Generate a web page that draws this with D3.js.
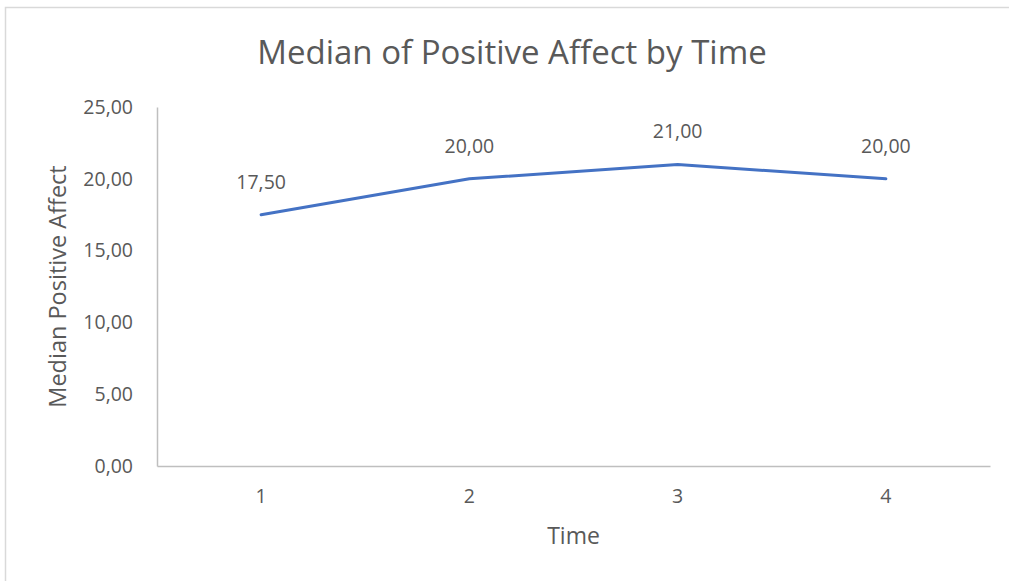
<!DOCTYPE html>
<html>
<head>
<meta charset="utf-8">
<script src="https://cdn.jsdelivr.net/npm/d3@7"></script>
<style>
  body { margin: 0; background: #fff; overflow: hidden; }
  text { font-family: "Open Sans", sans-serif; fill: #595959; }
</style>
</head>
<body>
<svg id="chart"></svg>
<script>
// chart data
const times = ["1", "2", "3", "4"];
const medians = [17.5, 20, 21, 20];
const yTicks = [0, 5, 10, 15, 20, 25];

const width = 1009, height = 581;
const margin = { top: 107, right: 19, bottom: 115, left: 157 };
const innerW = width - margin.left - margin.right;
const innerH = height - margin.top - margin.bottom;

const svg = d3.select('#chart')
    .attr('width', width)
    .attr('height', height);

// outer chart border (only top and left edges fall inside the picture)
svg.append('rect')
    .attr('x', 5.5).attr('y', 7.5)
    .attr('width', width + 20).attr('height', height + 20)
    .attr('fill', 'none')
    .attr('stroke', '#d9d9d9')
    .attr('stroke-width', 1.5);

const chart = svg.append('g')
    .attr('transform', `translate(${margin.left}, ${margin.top})`);

const locale = d3.formatLocale({ decimal: ",", thousands: ".", grouping: [3], currency: ["", ""] });
const fmt = locale.format(".2f");

const xScale = d3.scaleBand()
    .domain(times)
    .range([0, innerW]);

const yScale = d3.scaleLinear()
    .domain([0, 25])
    .range([innerH, 0]);

// axes
const xAxis = d3.axisBottom(xScale).tickSize(0).tickPadding(23);
const yAxis = d3.axisLeft(yScale).tickValues(yTicks).tickFormat(fmt).tickSize(0).tickPadding(24);

const xg = chart.append('g')
    .attr('transform', `translate(0, ${innerH})`)
    .call(xAxis);
const yg = chart.append('g').call(yAxis);

[xg, yg].forEach(g => {
    g.select('.domain').attr('stroke', '#bfbfbf').attr('stroke-width', 1.5);
    g.selectAll('text').style('font-size', '19.5px').attr('fill', '#595959');
});

// line
const line = d3.line()
    .x((d, i) => xScale(times[i]) + xScale.bandwidth() / 2)
    .y(d => yScale(d));

chart.append('path')
    .datum(medians)
    .attr('d', line)
    .attr('fill', 'none')
    .attr('stroke', '#4472c4')
    .attr('stroke-width', 3)
    .attr('stroke-linejoin', 'round')
    .attr('stroke-linecap', 'round');

// data labels
chart.selectAll('.label')
    .data(medians)
    .enter()
    .append('text')
    .attr('class', 'label')
    .attr('x', (d, i) => xScale(times[i]) + xScale.bandwidth() / 2)
    .attr('y', d => yScale(d) - 33)
    .attr('dy', '0.35em')
    .attr('text-anchor', 'middle')
    .style('font-size', '19.5px')
    .text(d => fmt(d));

// title
svg.append('text')
    .attr('x', 512)
    .attr('y', 52)
    .attr('dy', '0.35em')
    .attr('text-anchor', 'middle')
    .style('font-size', '33px')
    .text('Median of Positive Affect by Time');

// axis titles
svg.append('text')
    .attr('x', margin.left + innerW / 2)
    .attr('y', 536)
    .attr('dy', '0.35em')
    .attr('text-anchor', 'middle')
    .style('font-size', '23px')
    .text('Time');

svg.append('text')
    .attr('transform', `translate(58, ${margin.top + innerH / 2}) rotate(-90)`)
    .attr('dy', '0.35em')
    .attr('text-anchor', 'middle')
    .style('font-size', '23.5px')
    .text('Median Positive Affect');
</script>
</body>
</html>
